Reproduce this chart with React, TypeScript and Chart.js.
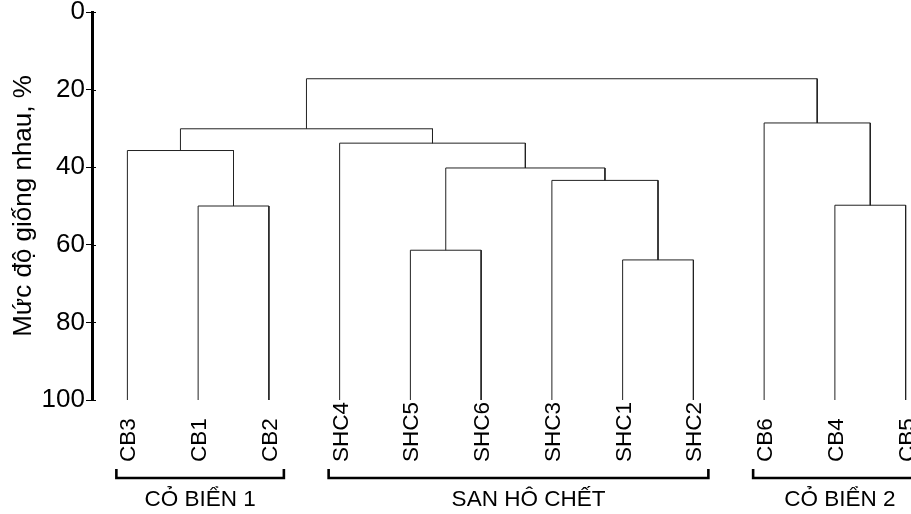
import React, { useEffect, useRef } from 'react';
import { Chart, registerables } from 'chart.js';

Chart.register(...registerables);

// ---- data ----
const leafLabels = ['CB3', 'CB1', 'CB2', 'SHC4', 'SHC5', 'SHC6', 'SHC3', 'SHC1', 'SHC2', 'CB6', 'CB4', 'CB5'];
// merge k joins mergeLeft[k] and mergeRight[k] ("Mk" refers to merge k) at similarity mergeLevels[k]
const mergeLeft = ['CB1', 'CB3', 'SHC5', 'SHC1', 'SHC3', 'M2', 'SHC4', 'M1', 'CB4', 'CB6', 'M7'];
const mergeRight = ['CB2', 'M0', 'SHC6', 'SHC2', 'M3', 'M4', 'M5', 'M6', 'CB5', 'M8', 'M9'];
const mergeLevels = [50, 35.7, 61.4, 63.9, 43.4, 40.2, 33.8, 30.1, 49.8, 28.6, 17.2];
const leafLevel = 100;
const yTicks = [0, 20, 40, 60, 80, 100];
const yTitle = 'Mức độ giống nhau, %';
const groupNames = ['CỎ BIỂN 1', 'SAN HÔ CHẾT', 'CỎ BIỂN 2'];
const groupFirst = ['CB3', 'SHC4', 'CB6'];
const groupLast = ['CB2', 'SHC2', 'CB5'];

const FONT = '"Liberation Sans", Arial, Helvetica, sans-serif';

function buildDatasets() {
  const xs: Record<string, number> = {};
  const ys: Record<string, number> = {};
  leafLabels.forEach((l, i) => {
    xs[l] = i;
    ys[l] = leafLevel;
  });
  const datasets: any[] = [];
  mergeLevels.forEach((lvl, k) => {
    const a = { x: xs[mergeLeft[k]], y: ys[mergeLeft[k]] };
    const b = { x: xs[mergeRight[k]], y: ys[mergeRight[k]] };
    datasets.push({
      data: [
        { x: a.x, y: a.y },
        { x: a.x, y: lvl },
        { x: b.x, y: lvl },
        { x: b.x, y: b.y },
      ],
      showLine: true,
      borderColor: '#222',
      borderWidth: 1,
      pointRadius: 0,
      pointHoverRadius: 0,
      fill: false,
      tension: 0,
    });
    xs['M' + k] = (a.x + b.x) / 2;
    ys['M' + k] = lvl;
  });
  return datasets;
}

const LEAF_FONT_SIZE = 22.5;
const GROUP_FONT_SIZE = 22.5;

const annotPlugin = {
  id: 'dendroAnnot',
  afterDraw(chart: any) {
    const ctx = chart.ctx as CanvasRenderingContext2D;
    const xs = chart.scales.x;
    const ys = chart.scales.y;
    const area = chart.chartArea;
    const px = (name: string) => xs.getPixelForValue(leafLabels.indexOf(name));
    ctx.save();
    // inner half of the y ticks
    ctx.strokeStyle = '#000';
    ctx.lineWidth = 1;
    yTicks.forEach((v) => {
      const y = Math.round(ys.getPixelForValue(v)) + 0.5;
      ctx.beginPath();
      ctx.moveTo(area.left, y);
      ctx.lineTo(area.left + 4, y);
      ctx.stroke();
    });
    // leaf labels
    ctx.fillStyle = '#000';
    ctx.font = LEAF_FONT_SIZE + 'px ' + FONT;
    ctx.textAlign = 'left';
    ctx.textBaseline = 'alphabetic';
    const startY = area.bottom + 62;
    const capHalf = LEAF_FONT_SIZE * 0.716 / 2;
    leafLabels.forEach((lab, i) => {
      const x = xs.getPixelForValue(i);
      ctx.save();
      ctx.translate(x + capHalf, startY);
      ctx.rotate(-Math.PI / 2);
      ctx.fillText(lab, 0, 0);
      ctx.restore();
    });
    // brackets + group names
    const nudge = [0, 10, 3];
    ctx.font = GROUP_FONT_SIZE + 'px ' + FONT;
    groupNames.forEach((g, i) => {
      const x1 = px(groupFirst[i]) - 11;
      const x2 = px(groupLast[i]) + 15;
      const yb = area.bottom + 78;
      ctx.beginPath();
      ctx.lineWidth = 2.6;
      ctx.lineJoin = 'miter';
      ctx.moveTo(x1, yb - 9);
      ctx.lineTo(x1, yb);
      ctx.lineTo(x2, yb);
      ctx.lineTo(x2, yb - 9);
      ctx.stroke();
      ctx.textAlign = 'center';
      ctx.fillText(g, (x1 + x2) / 2 + nudge[i], area.bottom + 106);
    });
    ctx.restore();
  },
};

export default function App() {
  const ref = useRef<HTMLCanvasElement>(null);
  useEffect(() => {
    if (!ref.current) return;
    const chart = new Chart(ref.current, {
      type: 'scatter',
      data: { datasets: buildDatasets() },
      options: {
        animation: false,
        responsive: false,
        maintainAspectRatio: false,
        layout: { padding: { top: 12, bottom: 114, left: 0, right: 0 } },
        plugins: { legend: { display: false }, tooltip: { enabled: false } },
        scales: {
          x: {
            type: 'linear',
            display: false,
            min: -0.5,
            max: 11.5,
          },
          y: {
            type: 'linear',
            reverse: true,
            min: 0,
            max: 100,
            afterBuildTicks: (scale: any) => {
              scale.ticks = yTicks.map((v) => ({ value: v }));
            },
            afterFit: (scale: any) => {
              scale.width = 92;
              scale.paddingTop = 0;
              scale.paddingBottom = 0;
            },
            grid: {
              drawOnChartArea: false,
              drawTicks: true,
              tickLength: 6,
              tickWidth: 1,
              tickColor: '#000',
            },
            border: { display: true, color: '#000', width: 3 },
            ticks: {
              color: '#000',
              padding: 1,
              font: { family: FONT, size: 26 },
            },
            title: {
              display: true,
              text: yTitle,
              color: '#000',
              font: { family: FONT, size: 26 },
              padding: { top: 8, bottom: 0 },
            },
          },
        },
      },
      plugins: [annotPlugin],
    });
    return () => chart.destroy();
  }, []);
  return (
    <div
      style={{
        position: 'fixed',
        left: 0,
        top: 0,
        width: 911,
        height: 514,
        overflow: 'hidden',
        background: '#fff',
      }}
    >
      <canvas ref={ref} width={941} height={514} style={{ display: 'block', width: 941, height: 514 }} />
    </div>
  );
}
